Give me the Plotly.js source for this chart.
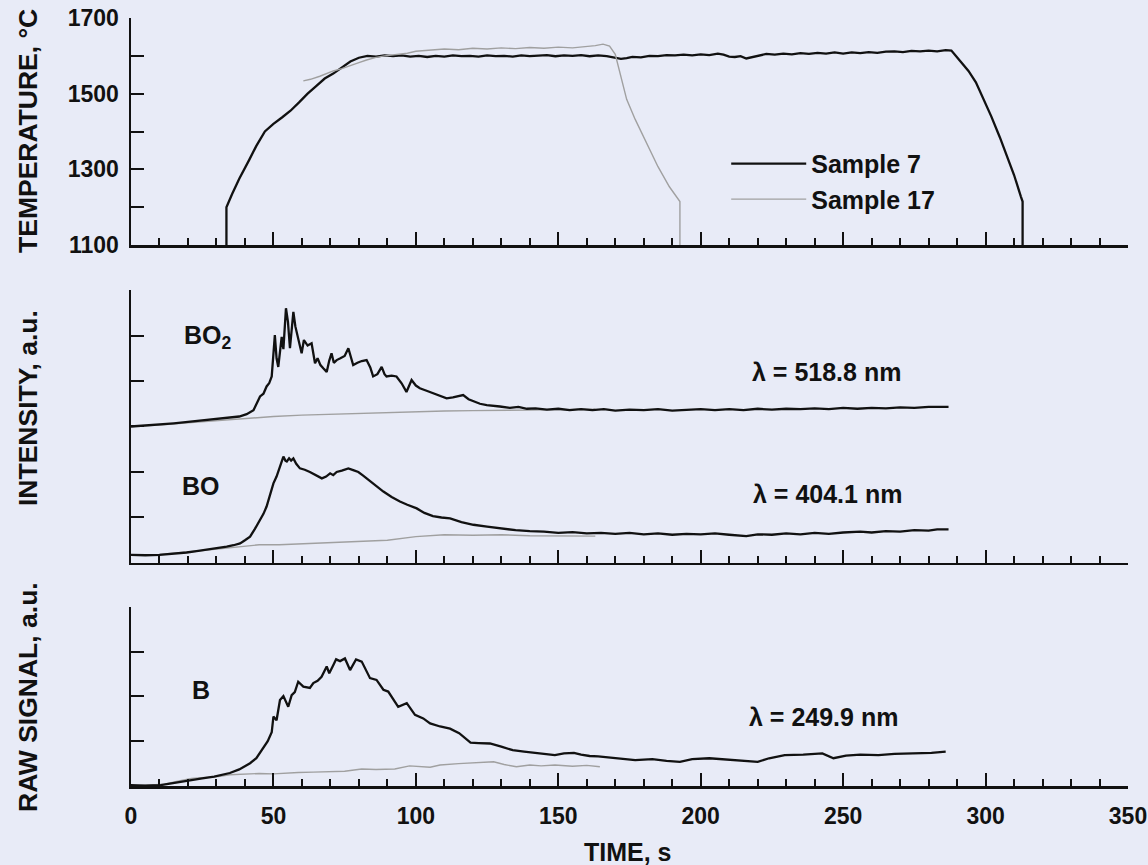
<!DOCTYPE html>
<html>
<head>
<meta charset="utf-8">
<script src="https://cdn.plot.ly/plotly-3.0.1.min.js"></script>
<style>
html,body{margin:0;padding:0;background:#e8ebf7;}
#chart{width:1148px;height:865px;}
</style>
</head>
<body>
<div id="chart"></div>
<script>
// ---------- Temperature (top panel) ----------
const tempTime7 = [33.5,33.5,35.5,38,41.5,44,47,50,53,56,59,62,65,68,71,74,77,80,83,86,89,92,95,98,101,104,107,110,113,116,119,122,125,128,131,134,137,140,143,146,149,152,155,158,161,164,167,170,172,174,176,179,182,185,188,191,194,197,200,203,206,208,210,212,214,216,218,220,223,226,229,232,235,238,241,244,247,250,253,256,259,262,265,268,271,274,277,280,283,286,288,291,294,296.6,299,302,305,307,310,312.4,313,313];
const tempSample7 = [1100,1200,1235,1275,1325,1362,1400,1420,1437,1455,1477,1500,1520,1540,1553,1570,1585,1595,1600,1598,1601,1599,1601,1598,1600,1597,1600,1598,1601,1599,1600,1598,1601,1599,1600,1598,1601,1599,1600,1602,1599,1601,1600,1602,1599,1601,1599,1595,1592,1594,1597,1596,1600,1599,1602,1601,1603,1601,1604,1602,1606,1603,1598,1597,1599,1593,1597,1600,1605,1603,1606,1604,1607,1605,1608,1606,1609,1606,1609,1607,1610,1608,1611,1612,1610,1613,1612,1614,1612,1615,1614,1587,1560,1530,1490,1440,1385,1344,1285,1228,1215,1100];
const tempTime17 = [60.5,63,66.3,71,74,77,80,82.7,86,89,93,97,100,105,110,115,120,125,130,135,140,145,150,155,160,163,165.7,168,170,172,174,177,181,185,189,192.7,192.7];
const tempSample17 = [1534,1538,1546,1560,1566,1573,1582,1589,1596,1600,1603,1607,1612,1615,1618,1616,1620,1618,1621,1619,1622,1620,1623,1621,1624,1627,1631,1626,1604,1546,1485,1432,1371,1307,1254,1215,1100];

// ---------- Intensity (middle panel) ----------
const bo2Time7 = [0,5,10,15,20,25,30,35,38,40.6,43,45.3,46.5,47.6,48.5,49.4,50.5,51.1,51.7,52.9,53.5,54.4,55.1,55.8,57,57.7,58.5,59.2,59.9,60.7,62,63.4,64.6,65.5,66.5,67.5,68.7,69.6,70.4,71.2,72.2,73.5,75,76.3,77.2,78,79.5,81,82.7,84,85,86.5,88,89,89.7,91.5,93.2,95,96.7,98.5,100,101.4,104,106,108.5,110.8,113,116.6,118.5,120.2,122.5,124.9,127,129.5,133,136,139,142,146,150,154,158,162,166,170,175,180,185,190,195,200,205,210,215,220,225,230,235,240,245,250,255,260,265,270,275,280,287];
const bo2Sample7 = [3.0,3.02,3.04,3.07,3.1,3.13,3.16,3.2,3.22,3.27,3.36,3.66,3.72,3.88,3.95,4.1,5.01,4.5,4.31,4.97,4.7,5.6,5.3,4.72,5.52,5.2,4.97,4.8,4.61,4.9,4.78,4.83,4.39,4.5,4.35,4.28,4.2,4.45,4.61,4.4,4.46,4.5,4.55,4.72,4.5,4.35,4.4,4.44,4.46,4.3,4.1,4.15,4.31,4.15,4.1,4.12,4.1,3.95,3.76,4.02,3.9,3.84,3.78,3.73,3.68,3.62,3.64,3.69,3.6,3.55,3.5,3.47,3.46,3.44,3.41,3.43,3.39,3.4,3.37,3.39,3.36,3.38,3.36,3.38,3.35,3.37,3.36,3.38,3.35,3.37,3.38,3.36,3.38,3.36,3.39,3.37,3.39,3.38,3.4,3.38,3.41,3.39,3.41,3.4,3.42,3.41,3.43,3.43];
const bo2Time17 = [0,10,20,30,40,50,60,70,80,90,100,110,120,130,140,150,163];
const bo2Sample17 = [3.0,3.03,3.08,3.13,3.18,3.22,3.25,3.27,3.29,3.31,3.32,3.34,3.35,3.35,3.36,3.37,3.38];

const boTime7 = [0,5,10,15,19.5,23,26.6,30,33.6,36,38.3,40,41.8,43.5,45.3,46.5,47.6,48.8,50,51.1,52,53.5,54.2,54.7,55.5,56.2,57,58,59.3,61,62.8,65,67,68.5,69.9,71,72.2,74,76.3,78,79.8,81.5,82.7,85,88.6,91.5,94.4,97,100.3,103,106,109,112,116,120.2,125,129.5,135,140,145,150,155,160,165,170,175,180,185,190,195,200,205,210,216,220,225,230,235,240,245,250,256,260,265,270,275,280,283,287];
const boSample7 = [0.18,0.17,0.18,0.2,0.23,0.26,0.29,0.32,0.36,0.39,0.43,0.5,0.58,0.75,0.95,1.08,1.24,1.5,1.75,1.9,2.05,2.34,2.25,2.23,2.3,2.25,2.3,2.18,2.08,2.05,2.0,1.93,1.86,1.9,1.97,1.93,2.0,2.03,2.08,2.04,2.0,1.92,1.86,1.75,1.57,1.45,1.35,1.28,1.2,1.1,1.03,1.0,0.98,0.9,0.84,0.8,0.76,0.72,0.7,0.69,0.66,0.68,0.65,0.66,0.64,0.66,0.63,0.65,0.62,0.64,0.63,0.65,0.62,0.59,0.63,0.62,0.65,0.63,0.66,0.64,0.67,0.69,0.67,0.7,0.69,0.72,0.71,0.74,0.74];
const boTime17 = [0,10,20,30,38,45,52,60,70,80,90,100,110,120,130,140,150,163];
const boSample17 = [0.18,0.19,0.24,0.3,0.35,0.4,0.4,0.42,0.44,0.47,0.5,0.58,0.62,0.61,0.62,0.6,0.6,0.59];

// ---------- Raw signal (bottom panel) ----------
const bTime7 = [0,5,10.4,15,19.8,25,29.2,33,34.7,38,41.8,44,46.4,48,49.4,50,51.1,52.3,53.5,55.2,56.4,57.5,58.7,60.5,62.8,64,65.5,66.9,68.7,69.6,71,72,73.4,75.1,76.9,79,81,82.5,83.9,86.2,88.6,90.3,92,93.8,96.8,99.7,102.6,105,108.5,112,115.2,117,119.2,122,126,130,134,138,142,145.5,148.8,152,155.5,158,161,164,170,177,183,188,192.7,197,203,208,214,218,220,224,229.5,236,242.7,246.6,251,256,262.4,268,275.5,281,286];
const bSample7 = [0.02,0.01,0.02,0.07,0.13,0.17,0.21,0.27,0.29,0.37,0.51,0.62,0.85,1.0,1.2,1.55,1.47,1.92,2.01,1.77,2.03,2.1,2.33,2.22,2.19,2.3,2.35,2.44,2.67,2.52,2.7,2.83,2.79,2.85,2.59,2.83,2.78,2.6,2.41,2.37,2.15,2.11,1.95,1.77,1.85,1.59,1.51,1.4,1.33,1.28,1.18,1.08,0.97,0.96,0.95,0.88,0.8,0.77,0.74,0.72,0.69,0.73,0.74,0.7,0.67,0.66,0.62,0.58,0.6,0.56,0.54,0.6,0.62,0.6,0.58,0.56,0.54,0.62,0.69,0.7,0.73,0.62,0.68,0.7,0.69,0.72,0.73,0.74,0.77];
const bTime17 = [0,5,11.8,16,21.2,26,30.6,34.7,40,45,50,54,58.7,64,69.6,75,81,86,92.6,97.8,105,108.5,115,121,127.3,131,135.3,140,144,148.8,155,160,164.6];
const bSample17 = [0.0,0.01,0.04,0.1,0.17,0.19,0.21,0.25,0.27,0.28,0.27,0.29,0.3,0.31,0.32,0.33,0.38,0.37,0.38,0.45,0.42,0.47,0.5,0.52,0.54,0.48,0.43,0.47,0.45,0.47,0.44,0.46,0.43];

// ---------- Labels ----------
const legendNames = ['Sample 7', 'Sample 17'];
const tempTickVals = [1100,1200,1300,1400,1500,1600,1700];
const tempTickText = ['1100','','1300','','1500','','1700'];
const timeTickVals = [0,50,100,150,200,250,300,350];
const timeTickText = ['0','50','100','150','200','250','300','350'];
const speciesLabels = ['BO<sub>2</sub>', 'BO', 'B'];
const wavelengthLabels = ['\u03bb = 518.8 nm', '\u03bb = 404.1 nm', '\u03bb = 249.9 nm'];
const axisTitles = ['TEMPERATURE, \u00b0C', 'INTENSITY, a.u.', 'RAW SIGNAL, a.u.', 'TIME, s'];

const FONT = 'Liberation Sans, Arial, Helvetica, sans-serif';
const INK = '#111111';
const BLACK_LINE = {color: '#111111', width: 2.3};
const GRAY_LINE = {color: '#a0a0a0', width: 1.4};

const traces = [
  {x: tempTime7, y: tempSample7, xaxis: 'x3', yaxis: 'y3', mode: 'lines', line: BLACK_LINE, name: legendNames[0], showlegend: true},
  {x: tempTime17, y: tempSample17, xaxis: 'x3', yaxis: 'y3', mode: 'lines', line: GRAY_LINE, name: legendNames[1], showlegend: true},
  {x: bo2Time17, y: bo2Sample17, xaxis: 'x2', yaxis: 'y2', mode: 'lines', line: GRAY_LINE, showlegend: false},
  {x: bo2Time7, y: bo2Sample7, xaxis: 'x2', yaxis: 'y2', mode: 'lines', line: BLACK_LINE, showlegend: false},
  {x: boTime17, y: boSample17, xaxis: 'x2', yaxis: 'y2', mode: 'lines', line: GRAY_LINE, showlegend: false},
  {x: boTime7, y: boSample7, xaxis: 'x2', yaxis: 'y2', mode: 'lines', line: BLACK_LINE, showlegend: false},
  {x: bTime17, y: bSample17, xaxis: 'x', yaxis: 'y', mode: 'lines', line: GRAY_LINE, showlegend: false},
  {x: bTime7, y: bSample7, xaxis: 'x', yaxis: 'y', mode: 'lines', line: BLACK_LINE, showlegend: false}
];

function xAxis(anchor, showLabels) {
  return {
    anchor: anchor, domain: [0, 1], range: [0, 350],
    showline: true, linecolor: INK, linewidth: 2.5,
    showgrid: false, zeroline: false,
    tickmode: 'array', tickvals: timeTickVals, ticktext: timeTickText,
    ticks: 'inside', ticklen: 13, tickwidth: 2, tickcolor: INK,
    showticklabels: showLabels, ticklabelstandoff: 8,
    tickfont: {family: FONT, size: 23, color: INK, weight: 700},
    minor: {ticks: 'inside', ticklen: 7, tickwidth: 2, tickcolor: INK, dtick: 10, tick0: 0, showgrid: false},
    fixedrange: true
  };
}
function yAxis(anchor, domain, range, vals, text, showLabels) {
  return {
    anchor: anchor, domain: domain, range: range,
    showline: true, linecolor: INK, linewidth: 2.5,
    showgrid: false, zeroline: false,
    tickmode: 'array', tickvals: vals, ticktext: text,
    ticks: 'inside', ticklen: 13, tickwidth: 2, tickcolor: INK,
    showticklabels: showLabels, ticklabelstandoff: 5,
    tickfont: {family: FONT, size: 23, color: INK, weight: 700},
    fixedrange: true
  };
}

const annFont = {family: FONT, size: 25, color: INK, weight: 700};
const titleFont = {family: FONT, size: 26.5, color: INK, weight: 700};
function ann(xref, yref, x, y, text, angle, font) {
  return {xref: xref, yref: yref, x: x, y: y, text: text, textangle: angle || 0,
          xanchor: 'center', yanchor: 'middle', showarrow: false, font: font || annFont};
}
const annotations = [
  ann('x2', 'y2', 27, 4.97, speciesLabels[0]),
  ann('x2', 'y2', 24.6, 1.69, speciesLabels[1]),
  ann('x', 'y', 24.6, 2.15, speciesLabels[2]),
  ann('x2', 'y2', 244, 4.2, wavelengthLabels[0]),
  ann('x2', 'y2', 244.6, 1.52, wavelengthLabels[1]),
  ann('x', 'y', 243.2, 1.54, wavelengthLabels[2]),
  ann('paper', 'paper', -0.1033, 0.8529, axisTitles[0], -90, titleFont),
  ann('paper', 'paper', -0.1033, 0.4922, axisTitles[1], -90, titleFont),
  ann('paper', 'paper', -0.1033, 0.1159, axisTitles[2], -90, titleFont),
  ann('paper', 'paper', 0.4985, -0.0859, axisTitles[3])
];

const layout = {
  width: 1148, height: 865,
  margin: {l: 131, r: 20, t: 18, b: 79},
  paper_bgcolor: '#e8ebf7', plot_bgcolor: '#e8ebf7',
  font: {family: FONT, color: INK},
  showlegend: true,
  legend: {
    x: 0.597, y: 0.84, xanchor: 'left', yanchor: 'top',
    bgcolor: 'rgba(0,0,0,0)', borderwidth: 0,
    font: {family: FONT, size: 25, color: INK, weight: 700},
    itemwidth: 75, tracegroupgap: 0
  },
  xaxis: xAxis('y', true),
  xaxis2: xAxis('y2', false),
  xaxis3: xAxis('y3', false),
  yaxis: yAxis('x', [0, 0.2331], [0, 4], [0,1,2,3,4], ['','','','',''], false),
  yaxis2: yAxis('x2', [0.2904, 0.6458], [0, 6], [0,1,2,3,4,5,6], ['','','','','','',''], false),
  yaxis3: yAxis('x3', [0.7044, 1], [1100, 1700], tempTickVals, tempTickText, true),
  annotations: annotations
};

Plotly.newPlot('chart', traces, layout, {displayModeBar: false, staticPlot: true});
</script>
</body>
</html>
